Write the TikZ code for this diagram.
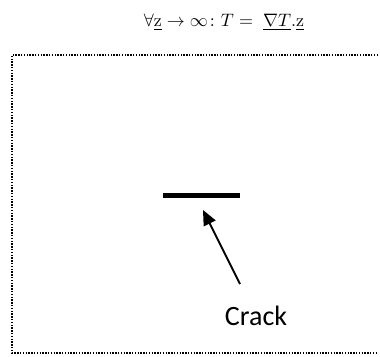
\documentclass[tikz,border=0pt]{standalone}
\usepackage{amsmath,amssymb}
\usepackage{fontspec}
\newfontfamily\crackfont{Carlito}
\usetikzlibrary{arrows.meta,positioning}

\begin{document}
\begin{tikzpicture}[x=1pt,y=1pt,>={Triangle[length=15pt,width=13pt]},
    boundary/.style={dash pattern=on 1.4pt off 1.4pt,line width=1.4pt},
    crackline/.style={line width=5pt},
    pointer/.style={->,line width=1.8pt}]
    \useasboundingbox (0,0) rectangle (380,356);
    % heading
    \node[scale=1.8] (eq) at (224,334) {$\forall\underline{\mathrm{z}}\to\infty\colon T=\;\underline{\nabla T}.\underline{\mathrm{z}}$};
    % domain boundary, open on the right
    \draw[boundary] (378,301) -- (12,301) -- (12,3) -- (378,3);
    % crack and label
    \coordinate (cl) at (163,160);
    \coordinate (cr) at (240,160);
    \draw[crackline] (cl) -- (cr);
    \node[font=\crackfont\fontsize{28}{32}\selectfont] (lbl) at (256,40) {Crack};
    \coordinate (tail) at (240,72);
    \coordinate (tip) at (203,146);
    \draw[pointer] (tail) -- (tip);
\end{tikzpicture}
\end{document}
